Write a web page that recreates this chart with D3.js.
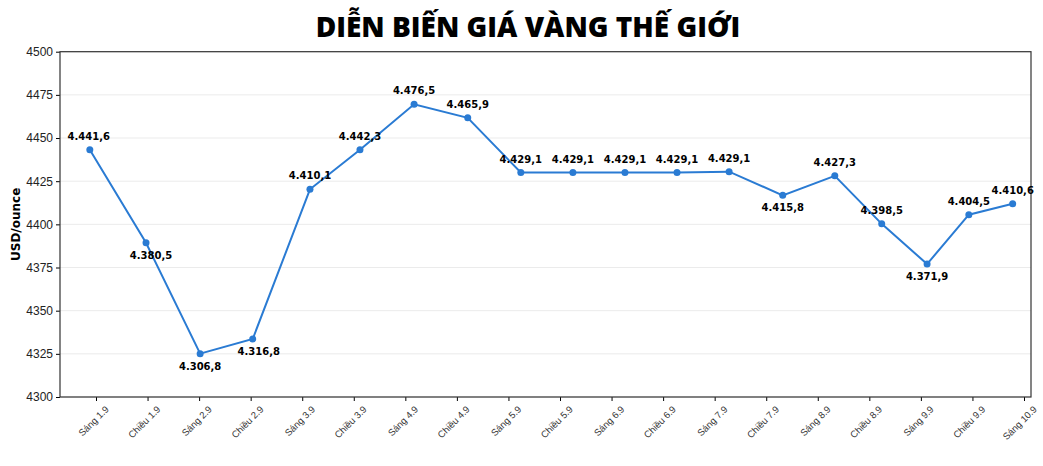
<!DOCTYPE html><html><head><meta charset="utf-8"><script src="https://cdn.jsdelivr.net/npm/d3@7"></script>
<style>body{margin:0;background:#fff;font-family:"DejaVu Sans",sans-serif}</style></head><body><svg id="c" width="1043" height="466"></svg>
<script>
const categories=["Sáng 1.9","Chiều 1.9","Sáng 2.9","Chiều 2.9","Sáng 3.9","Chiều 3.9","Sáng 4.9","Chiều 4.9","Sáng 5.9","Chiều 5.9","Sáng 6.9","Chiều 6.9","Sáng 7.9","Chiều 7.9","Sáng 8.9","Chiều 8.9","Sáng 9.9","Chiều 9.9","Sáng 10.9"];
const times=[-0.12,0.97,2.02,3.04,4.15,5.12,6.17,7.21,8.24,9.25,10.26,11.27,12.28,13.32,14.33,15.24,16.12,16.93,17.78];
const values=[4443.2,4389.3,4325.1,4333.6,4420.3,4443.2,4469.5,4461.7,4430,4430,4430,4430,4430.5,4416.8,4428.1,4400.3,4377,4405.6,4411.9];
const labels=["4.441,6","4.380,5","4.306,8","4.316,8","4.410,1","4.442,3","4.476,5","4.465,9","4.429,1","4.429,1","4.429,1","4.429,1","4.429,1","4.415,8","4.427,3","4.398,5","4.371,9","4.404,5","4.410,6"];
const below=[false,true,true,true,false,false,false,false,false,false,false,false,false,true,false,false,true,false,false];
const yTicks=[4300,4325,4350,4375,4400,4425,4450,4475,4500];
const svg=d3.select("#c");
const L=60,R=1031,T=51.7,B=397;
const x=d3.scaleLinear().domain([0,18]).range([96,1024]);
const y=d3.scaleLinear().domain([4300,4500]).range([B,T]);
svg.append("text").attr("x",528).attr("y",37).attr("text-anchor","middle").attr("font-family","'Open Sans',sans-serif").attr("font-weight",800).attr("font-size",28).text("DIỄN BIẾN GIÁ VÀNG THẾ GIỚI");
svg.append("g").selectAll("line").data(yTicks).join("line").attr("x1",L).attr("x2",R).attr("y1",d=>y(d)).attr("y2",d=>y(d)).attr("stroke","#e6e6e6").attr("stroke-width",0.8);
const ya=svg.append("g").attr("transform",`translate(${L},0)`).call(d3.axisLeft(y).tickValues(yTicks).tickSize(4).tickFormat(d3.format("d")));
ya.selectAll("text").attr("font-size",12).attr("fill","#222");
const xa=svg.append("g").attr("transform",`translate(0,${B})`).call(d3.axisBottom(x).tickValues(d3.range(categories.length)).tickSize(4).tickFormat(i=>categories[i]));
xa.selectAll("text").attr("font-size",9.5).attr("fill","#333").attr("text-anchor","end").attr("transform","translate(4,4) rotate(-45)").attr("dy","0.6em");
svg.selectAll(".domain").remove();
svg.append("rect").attr("x",L).attr("y",T).attr("width",R-L).attr("height",B-T).attr("fill","none").attr("stroke","#333").attr("stroke-width",1.2);
svg.append("text").attr("transform",`translate(20,${(T+B)/2}) rotate(-90)`).attr("text-anchor","middle").attr("font-weight","bold").attr("font-size",12).text("USD/ounce");
svg.append("path").datum(values).attr("fill","none").attr("stroke","#2a7bd3").attr("stroke-width",2).attr("d",d3.line().x((d,i)=>x(times[i])).y(d=>y(d)));
svg.append("g").selectAll("circle").data(values).join("circle").attr("cx",(d,i)=>x(times[i])).attr("cy",d=>y(d)).attr("r",3.5).attr("fill","#2a7bd3");
svg.append("g").selectAll("text").data(values).join("text").attr("x",(d,i)=>x(times[i])+(i==1?5:i==3?6:i==0?-1:0)).attr("y",(d,i)=>y(d)+(below[i]?16:-10)).attr("text-anchor","middle").attr("font-weight","bold").attr("font-size",10).text((d,i)=>labels[i]);
</script></body></html>
